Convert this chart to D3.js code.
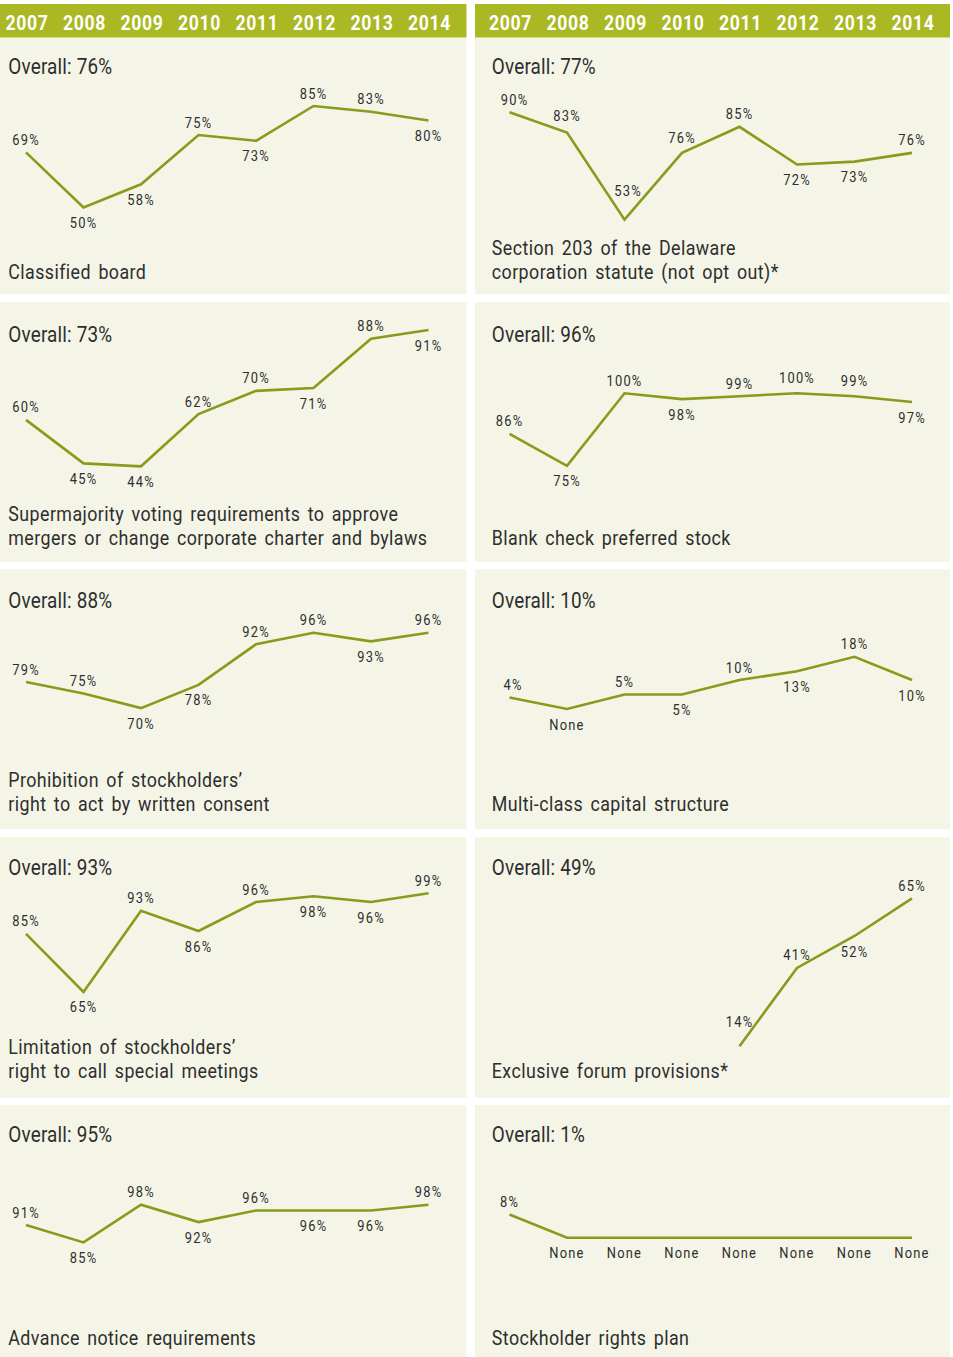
<!DOCTYPE html>
<html>
<head>
<meta charset="utf-8">
<script src="https://cdn.jsdelivr.net/npm/d3@7"></script>
<style>
  html, body { margin: 0; padding: 0; background: #ffffff; }
  svg { display: block; }
  text { font-family: Roboto, "Liberation Sans", sans-serif; fill: #2e2e2e; }
</style>
</head>
<body>
<svg id="chart" width="953" height="1357"></svg>
<script>
// ---- data -------------------------------------------------------------
const years = ["2007", "2008", "2009", "2010", "2011", "2012", "2013", "2014"];

const panelTitles = [
  ["Classified board"],
  ["Section 203 of the Delaware", "corporation statute (not opt out)*"],
  ["Supermajority voting requirements to approve", "mergers or change corporate charter and bylaws"],
  ["Blank check preferred stock"],
  ["Prohibition of stockholders\u2019", "right to act by written consent"],
  ["Multi-class capital structure"],
  ["Limitation of stockholders\u2019", "right to call special meetings"],
  ["Exclusive forum provisions*"],
  ["Advance notice requirements"],
  ["Stockholder rights plan"]
];

const overallShare = [76, 77, 73, 96, 88, 10, 93, 49, 95, 1];

// yearly share of companies with each provision (%); null = not tracked
const classifiedBoard      = [69, 50, 58, 75, 73, 85, 83, 80];
const delawareSection203   = [90, 83, 53, 76, 85, 72, 73, 76];
const supermajorityVoting  = [60, 45, 44, 62, 70, 71, 88, 91];
const blankCheckPreferred  = [86, 75, 100, 98, 99, 100, 99, 97];
const writtenConsentBan    = [79, 75, 70, 78, 92, 96, 93, 96];
const multiClassCapital    = [4, 0, 5, 5, 10, 13, 18, 10];
const specialMeetingLimit  = [85, 65, 93, 86, 96, 98, 96, 99];
const exclusiveForum       = [null, null, null, null, 14, 41, 52, 65];
const advanceNotice        = [91, 85, 98, 92, 96, 96, 96, 98];
const rightsPlan           = [8, 0, 0, 0, 0, 0, 0, 0];

const seriesList = [
  classifiedBoard, delawareSection203, supermajorityVoting, blankCheckPreferred,
  writtenConsentBan, multiClassCapital, specialMeetingLimit, exclusiveForum,
  advanceNotice, rightsPlan
];

// ---- layout -----------------------------------------------------------
const W = 953, H = 1357;
const colX = [-8.5, 475], colW = 475;
const headerTop = 4, headerBottom = 37.7;
const rowTop    = [37.7, 302.3, 569.3, 837.3, 1105];
const rowBottom = [294.3, 561.7, 829.3, 1097.7, 1362];
const overallBaseline = [74, 341.7, 608.3, 875, 1142];
const descBaseline    = [278.5, 544.5, 810.7, 1078.3, 1345.3];
const descLineHeight = 24;
const PX_PER_PT = 2.9;
// vertical position of the 100% level inside each panel (offset from row top)
const topLevelOffset = [24.8, 45.6, 1.6, 91, 51.8, -150.3, 53.1, -40.5, 93.9, -157.3];
// label sides: a = above the point, b = below
const labelSides = [
  "abbabaab", "aaaaabba", "abbaabab", "ababaaab", "aabbaaba",
  "abababab", "ababa" + "bba", "----aaba", "ababa" + "bba", "abbbbbbb"
];
const labelDyOverride = { "1-1": -11.5, "1-2": -24, "1-3": -10, "3-5": -10.5, "3-6": -10.5, "7-4": -19.5 };
const labelDxOverride = { "1-0": 5, "1-2": 3.5, "5-0": 3.5 };
const ABOVE = -7.5, BELOW = 20.5;

// condensed text styles (horizontal squeeze of a regular face)
const TXT = {
  year:    { size: 20.5, sx: 0.86, ls: 0.8, ws: 0, weight: "bold" },
  overall: { size: 22,   sx: 0.86, ls: 0.2, ws: 0, weight: "normal" },
  desc:    { size: 21,   sx: 0.85, ls: 0.5, ws: 3, weight: "normal" },
  label:   { size: 15,   sx: 0.86, ls: 1.4, ws: 0, weight: "normal" }
};

const C = {
  header: "#a9b823",
  panel: "#f4f5e7",
  line: "#8a9a1b",
  text: "#2e2e2e"
};

const svg = d3.select("#chart");

function styledText(sel, st) {
  return sel
    .style("font-size", st.size + "px")
    .style("font-weight", st.weight)
    .style("letter-spacing", st.ls + "px")
    .style("word-spacing", st.ws + "px");
}
function placeAt(x, y, st) {
  return `translate(${x},${y}) scale(${st.sx},1)`;
}

svg.append("rect").attr("x", 0).attr("y", 0).attr("width", W).attr("height", H).attr("fill", "#ffffff");

// header bars with year labels
colX.forEach(cx => {
  const x = d3.scalePoint().domain(years).range([cx + 34.5, cx + 437]);
  svg.append("rect")
    .attr("x", cx).attr("y", headerTop)
    .attr("width", colW).attr("height", headerBottom - headerTop)
    .attr("fill", C.header);
  svg.append("g").selectAll("text").data(years).join("text")
    .attr("transform", d => placeAt(x(d) + 1, 29.5, TXT.year))
    .attr("text-anchor", "middle")
    .style("fill", "#ffffff")
    .call(styledText, TXT.year)
    .text(d => d);
});

// panels
seriesList.forEach((values, i) => {
  const row = Math.floor(i / 2), col = i % 2;
  const cx = colX[col];
  const top = rowTop[row], bottom = rowBottom[row];
  const g = svg.append("g");

  g.append("rect")
    .attr("x", cx).attr("y", top)
    .attr("width", colW).attr("height", bottom - top)
    .attr("fill", C.panel);

  const x = d3.scalePoint().domain(years).range([cx + 34.5, cx + 437]);
  const y100 = top + topLevelOffset[i];
  const y = d3.scaleLinear().domain([0, 100]).range([y100 + 100 * PX_PER_PT, y100]);

  const pts = years.map((yr, k) => ({ yr, v: values[k], k }));

  g.append("path")
    .datum(pts)
    .attr("fill", "none")
    .attr("stroke", C.line)
    .attr("stroke-width", 2.6)
    .attr("stroke-linejoin", "miter")
    .attr("d", d3.line().defined(d => d.v != null).x(d => x(d.yr)).y(d => y(d.v)));

  g.append("g").selectAll("text")
    .data(pts.filter(d => d.v != null))
    .join("text")
    .attr("transform", d => {
      const key = i + "-" + d.k;
      const dy = key in labelDyOverride ? labelDyOverride[key]
        : (labelSides[i][d.k] === "a" ? ABOVE : BELOW);
      return placeAt(x(d.yr) + (labelDxOverride[key] || 0), y(d.v) + dy, TXT.label);
    })
    .attr("text-anchor", "middle")
    .call(styledText, TXT.label)
    .text(d => d.v === 0 ? "None" : d.v + "%");

  const tx = cx + 16.8;
  g.append("text")
    .attr("transform", placeAt(tx, overallBaseline[row], TXT.overall))
    .call(styledText, TXT.overall)
    .text("Overall: " + overallShare[i] + "%");

  const lines = panelTitles[i];
  lines.forEach((ln, j) => {
    g.append("text")
      .attr("transform", placeAt(tx, descBaseline[row] - (lines.length - 1 - j) * descLineHeight, TXT.desc))
      .call(styledText, TXT.desc)
      .text(ln);
  });
});
</script>
</body>
</html>
